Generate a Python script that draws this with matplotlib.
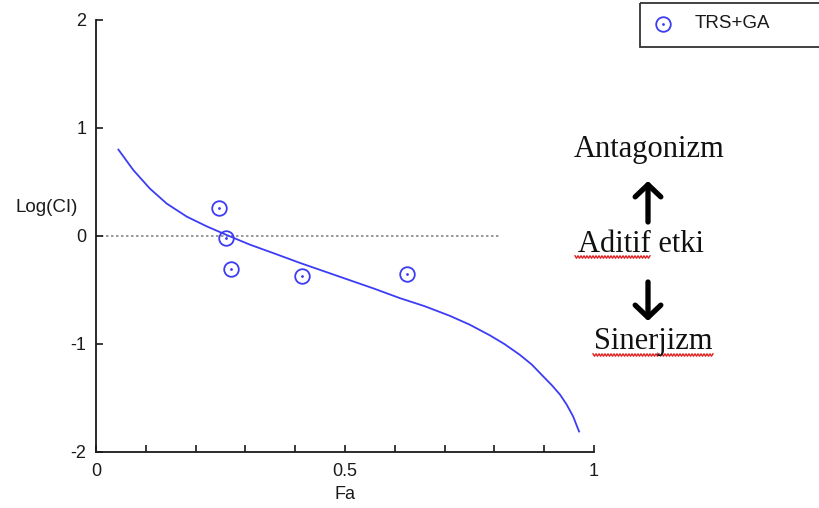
import numpy as np
import matplotlib
matplotlib.use("Agg")
import matplotlib.pyplot as plt
from matplotlib.patches import Rectangle

# measured combination points (Fa, log CI)
fa_points = [0.247, 0.261, 0.271, 0.414, 0.624]
logci_points = [0.26, -0.02, -0.31, -0.37, -0.35]

# simulated Fa-CI curve
fa_curve = [0.045, 0.075, 0.108, 0.142, 0.182, 0.222, 0.262, 0.309, 0.36, 0.41,
            0.46, 0.51, 0.56, 0.61, 0.66, 0.711, 0.75, 0.791, 0.82, 0.851,
            0.875, 0.898, 0.915, 0.932, 0.945, 0.958, 0.970]
logci_curve = [0.80, 0.61, 0.44, 0.30, 0.18, 0.09, 0.01, -0.08, -0.165, -0.25,
               -0.33, -0.41, -0.49, -0.575, -0.65, -0.74, -0.82, -0.92, -1.00, -1.10,
               -1.19, -1.30, -1.38, -1.47, -1.56, -1.67, -1.81]

additive_line_end = 0.81
legend_label = "TRS+GA"
notes = ["Antagonizm", "Aditif etki", "Sinerjizm"]

BLUE = "#3c3cf5"
INK = "#1a1a1a"
SANS = "Liberation Sans"
SERIF = "Liberation Serif"

W, H = 819, 508
fig = plt.figure(figsize=(W / 100, H / 100), dpi=100)
ax = fig.add_axes([96 / W, 1 - 452 / H, 498 / W, 432 / H])

ax.plot(fa_curve, logci_curve, color=BLUE, lw=1.3)
ax.plot([0, additive_line_end], [0, 0], color="#888888", lw=1.2, ls=(0, (1.5, 1.5)), zorder=1)
ax.plot(fa_points, logci_points, ls="none", marker="o", ms=10.5, mfc="none",
        mec=BLUE, mew=1.3)
ax.plot(fa_points, logci_points, ls="none", marker=".", ms=2, color=BLUE)

ax.set_xlim(0, 1)
ax.set_ylim(-2, 2)
ax.set_xticks([0, 0.5, 1])
ax.set_xticklabels(["0", "0.5", "1"])
ax.set_xticks(np.arange(0, 1.01, 0.1), minor=True)
ax.set_yticks([-2, -1, 0, 1, 2])
ax.set_yticklabels(["-2", "-1", "0", "1", "2"])
ax.tick_params(which="both", direction="in", length=5, width=1.2, colors=INK,
               labelsize=13, labelcolor=INK)
ax.tick_params(axis="x", pad=8)
ax.tick_params(axis="y", pad=7)
for lab in ax.get_xticklabels() + ax.get_yticklabels():
    lab.set_fontfamily(SANS)
for s in ["top", "right"]:
    ax.spines[s].set_visible(False)
for s in ["left", "bottom"]:
    ax.spines[s].set_linewidth(1.3)
    ax.spines[s].set_color(INK)
ax.set_xlabel("Fa", fontsize=13, family=SANS, color=INK, labelpad=4)
ax.text(-0.1, 0.26, "Log(CI)", transform=ax.transData, fontsize=13.5, family=SANS,
        color=INK, ha="center", va="center", clip_on=False)

# overlay in pixel coords for legend box and annotations
ov = fig.add_axes([0, 0, 1, 1], zorder=5)
ov.set_xlim(0, W)
ov.set_ylim(H, 0)
ov.axis("off")
ov.patch.set_alpha(0)

ov.add_patch(Rectangle((640, 3), 200, 44, fill=False, ec="#333333", lw=1.3))
ov.plot([663], [24], marker="o", ms=10.5, mfc="none", mec=BLUE, mew=1.3)
ov.plot([663], [24], marker=".", ms=2, color=BLUE)
ov.text(695, 24, legend_label, fontsize=13.5, family=SANS, color=INK, va="center")

ov.text(649, 150, notes[0], fontsize=22, family=SERIF, ha="center", va="center", color="#111111")
ov.text(641, 245, notes[1], fontsize=22, family=SERIF, ha="center", va="center", color="#111111")
ov.text(653, 342, notes[2], fontsize=22, family=SERIF, ha="center", va="center", color="#111111")

arrow_style = dict(arrowstyle="->, head_length=0.4, head_width=0.42", lw=3.8,
                   color="black", mutation_scale=22, shrinkA=0, shrinkB=0)
ov.annotate("", xy=(648, 181), xytext=(648, 222), arrowprops=arrow_style)
ov.annotate("", xy=(648, 321), xytext=(648, 282), arrowprops=arrow_style)


def squiggle(x0, x1, y):
    xs = np.arange(x0, x1 + 0.1, 1.5)
    ys = y + 1.2 * np.where(np.arange(len(xs)) % 2 == 0, -1, 1)
    ov.plot(xs, ys, color="#e02020", lw=1.0)


squiggle(575, 650, 257)
squiggle(593, 713, 355)

fig.savefig("out.png", dpi=100)
